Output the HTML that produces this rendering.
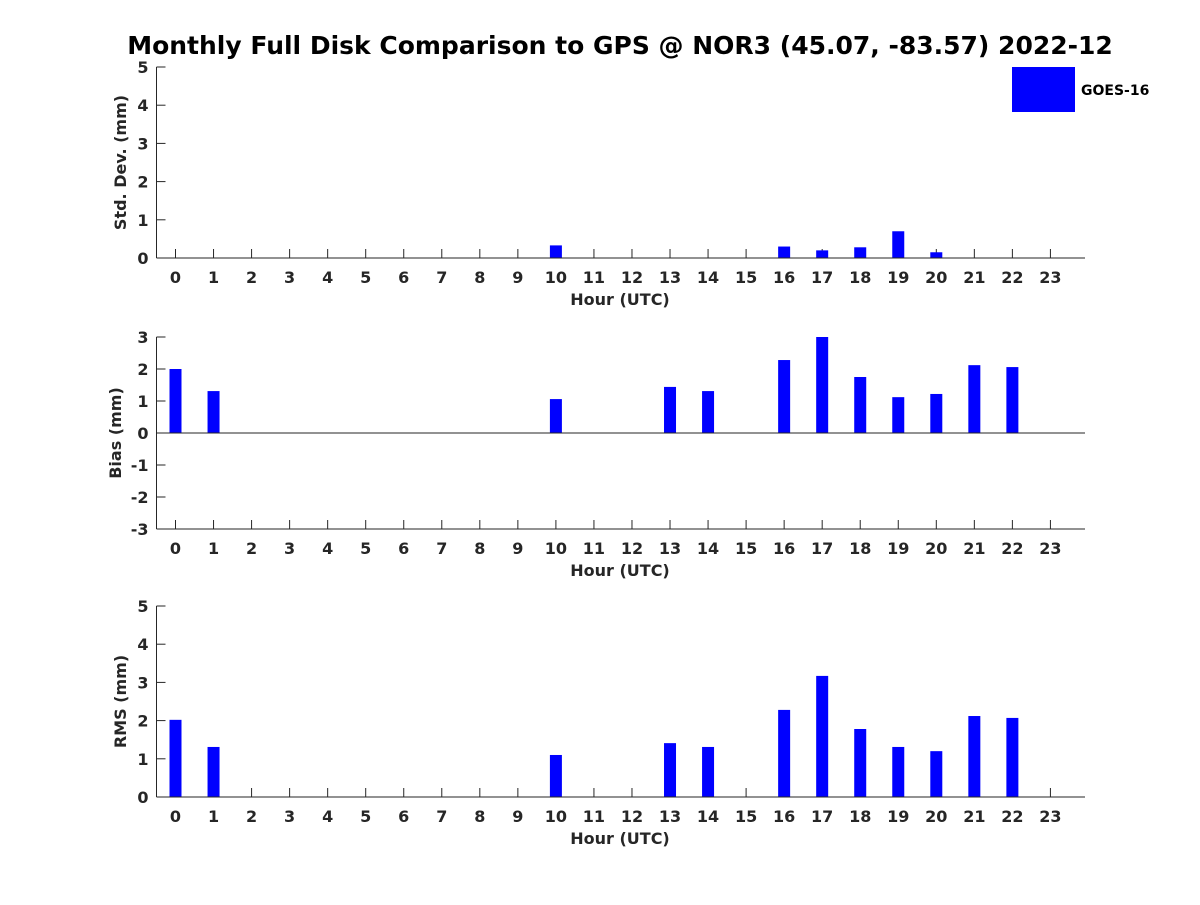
<!DOCTYPE html>
<html><head><meta charset="utf-8"><style>
body{margin:0;background:#fff}
svg text{font-family:"DejaVu Sans","Liberation Sans",sans-serif;font-weight:bold;fill:#262626}
</style></head><body>
<svg id="chart" width="1200" height="900" xmlns="http://www.w3.org/2000/svg">
<rect width="1200" height="900" fill="#fff"/>
<text x="620" y="54" font-size="25" text-anchor="middle" style="fill:#000">Monthly Full Disk Comparison to GPS @ NOR3 (45.07, -83.57) 2022-12</text>
<rect x="1012" y="67" width="63" height="45" fill="#0000ff"/>
<text x="1081" y="95" font-size="14" style="fill:#000">GOES-16</text>
</svg>
<script>
const hours = [0,1,2,3,4,5,6,7,8,9,10,11,12,13,14,15,16,17,18,19,20,21,22,23];
const stdValues = [null,null,null,null,null,null,null,null,null,null,0.33,null,null,null,null,null,0.3,0.2,0.28,0.7,0.15,null,null,null];
const biasValues = [2.0,1.31,null,null,null,null,null,null,null,null,1.06,null,null,1.44,1.31,null,2.28,3.0,1.75,1.12,1.22,2.12,2.06,null];
const rmsValues = [2.02,1.31,null,null,null,null,null,null,null,null,1.1,null,null,1.41,1.31,null,2.28,3.17,1.78,1.31,1.2,2.12,2.07,null];
const stdTicks = [0,1,2,3,4,5];
const biasTicks = [-3,-2,-1,0,1,2,3];
const rmsTicks = [0,1,2,3,4,5];

const svg = document.getElementById('chart');
const NS = 'http://www.w3.org/2000/svg';
function mk(tag, attrs, parent){const e=document.createElementNS(NS,tag);for(const k in attrs)e.setAttribute(k,attrs[k]);(parent||svg).appendChild(e);return e;}
const X0=156.5, X1=1085;
function xScale(h){return 175.5+h*38.04;}

function panel(key, values, ticks, yTop, yBot, ylabel){
  const g=mk('g',{});
  
  
  const vmin=ticks[0], vmax=ticks[ticks.length-1];
  const y=v=>yBot-(v-vmin)/(vmax-vmin)*(yBot-yTop);
  hours.forEach(h=>{
    mk('line',{x1:xScale(h),y1:yBot,x2:xScale(h),y2:yBot-9,stroke:'#262626'},g);
  });
  values.forEach((v,i)=>{
    if(v===null) return;
    const y0=y(Math.max(0,vmin)), y1=y(v);
    const r=mk('rect',{x:xScale(hours[i])-6,y:Math.min(y0,y1),width:12,height:Math.abs(y0-y1),fill:'#0000ff'},g);
    
    
  });
  mk('line',{x1:X0,y1:yTop,x2:X0,y2:yBot,stroke:'#262626','stroke-width':1},g);
  mk('line',{x1:X0,y1:yBot,x2:X1,y2:yBot,stroke:'#262626','stroke-width':1},g);
  if(vmin<0) mk('line',{x1:X0,y1:y(0),x2:X1,y2:y(0),stroke:'#262626','stroke-width':1},g);
  ticks.forEach(t=>{
    mk('line',{x1:X0,y1:y(t),x2:X0+9,y2:y(t),stroke:'#262626'},g);
    const tx=mk('text',{x:X0-8,y:y(t)+6,'font-size':16,'text-anchor':'end'},g);
    tx.textContent=t;
    
    
  });
  hours.forEach(h=>{
    const tx=mk('text',{x:xScale(h),y:yBot+25,'font-size':16,'text-anchor':'middle'},g);
    tx.textContent=h;
    
    
  });
  const xl=mk('text',{x:620,y:yBot+47,'font-size':16,'text-anchor':'middle'},g);
  xl.textContent='Hour (UTC)';
  
  
  const cy=(yTop+yBot)/2;
  const yl=mk('text',{x:0,y:0,'font-size':16,'text-anchor':'middle',transform:`translate(${key==='bias'?121:126},${cy}) rotate(-90)`},g);
  yl.textContent=ylabel;
  
  
}
panel('std', stdValues, stdTicks, 67, 258, 'Std. Dev. (mm)');
panel('bias', biasValues, biasTicks, 337, 529, 'Bias (mm)');
panel('rms', rmsValues, rmsTicks, 606, 797, 'RMS (mm)');
</script>
</body></html>
